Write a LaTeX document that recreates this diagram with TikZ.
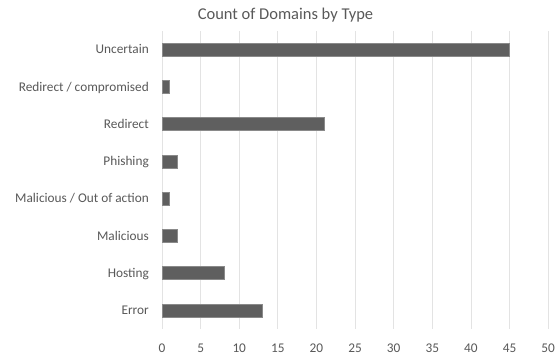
\documentclass[tikz,border=0pt]{standalone}
\usepackage{fontspec}
\setmainfont{Carlito}
\definecolor{txt}{HTML}{595959}
\definecolor{gridc}{HTML}{E3E3E3}
\definecolor{barc}{HTML}{5F5F5F}
\definecolor{bard}{HTML}{8A8A8A}
\begin{document}
\begin{tikzpicture}[x=1pt,y=-1pt,
  gridline/.style={draw=gridc,line width=0.75pt},
  barbox/.style={fill=barc,draw=bard,line width=0.6pt},
  catlabel/.style={anchor=base east,inner sep=0pt,text=txt,font=\fontsize{13.3}{14}\selectfont},
  ticklabel/.style={anchor=base,inner sep=0pt,text=txt,font=\fontsize{13.3}{14}\selectfont},
  titlelabel/.style={anchor=base,inner sep=0pt,text=txt,font=\fontsize{16.5}{18}\selectfont}]
\useasboundingbox (0,0) rectangle (556,356);
\fill[white] (0,0) rectangle (556,356);
\node[titlelabel] (title) at (285.5,19) {Count of Domains by Type};
\foreach \i in {0,...,10}{
  \pgfmathsetmacro{\xx}{162+38.62*\i}
  \pgfmathtruncatemacro{\vv}{5*\i}
  \draw[gridline] (\xx,31) -- (\xx,329);
  \node[ticklabel] (tick\i) at (\xx,352) {\vv};
}
\foreach \k/\v/\lab in {0/45/{Uncertain},1/1/{Redirect / compromised},2/21/{Redirect},3/2/{Phishing},4/1/{Malicious / Out of action},5/2/{Malicious},6/8/{Hosting},7/13/{Error}}{
  \pgfmathsetmacro{\yy}{49.5+37.25*\k}
  \pgfmathsetmacro{\xe}{162+7.724*\v}
  \fill[barc] (162,\yy-6.5) rectangle (\xe,\yy+6.5);
  \draw[bard,line width=0.5pt] (162,\yy-6.5) rectangle (\xe,\yy+6.5);
  \node[catlabel] (cat\k) at (149,\yy+4.4) {\lab};
}
\end{tikzpicture}
\end{document}
